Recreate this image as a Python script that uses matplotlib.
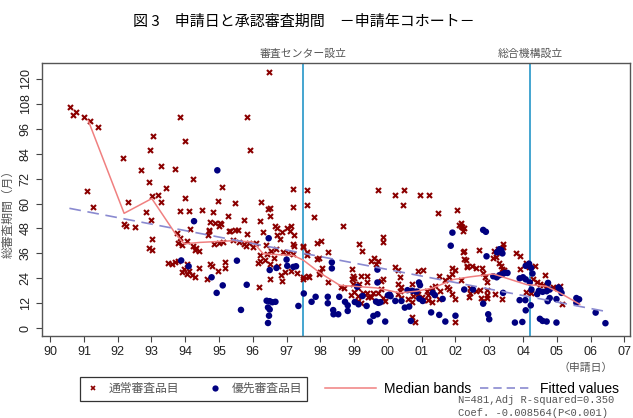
import numpy as np
import matplotlib
matplotlib.use("Agg")
import matplotlib.pyplot as plt
from matplotlib.lines import Line2D

plt.rcParams['font.family'] = ['Liberation Sans', 'Noto Sans CJK JP', 'DejaVu Sans']

# 通常審査品目 (application year 19xx, review months)
normal_year = [
    90.59, 90.69, 90.78, 91.01, 91.18, 91.41, 91.10, 91.28, 92.17, 92.30,
    92.20, 92.24, 92.51, 92.70, 92.95, 93.05, 92.94, 93.01, 93.20, 93.28,
    93.28, 93.43, 92.84, 93.00, 93.01, 92.94, 93.01, 93.83, 94.00, 93.69,
    94.24, 94.00, 93.83, 94.10, 94.51, 93.76, 93.85, 93.80, 93.90, 94.05,
    94.14, 93.50, 93.60, 93.70, 93.78, 93.90, 93.95, 94.05, 94.12, 94.20,
    94.28, 94.05, 94.24, 94.33, 94.42, 94.28, 94.40, 94.64, 94.72, 94.80,
    94.70, 94.68, 94.97, 95.09, 95.03, 94.99, 94.85, 95.00, 95.12, 94.98,
    95.17, 95.17, 95.26, 95.30, 95.46, 95.46, 95.74, 95.84, 95.82, 95.91,
    95.80, 95.90, 96.00, 96.49, 96.24, 96.22, 96.30, 96.51, 96.46, 96.51,
    96.20, 96.22, 96.35, 96.42, 96.55, 96.62, 96.66, 96.73, 96.80, 97.00,
    97.13, 97.20, 97.20, 97.23, 97.18, 97.22, 97.20, 97.12, 96.83, 96.50,
    96.17, 97.49, 97.59, 97.61, 97.82, 97.65, 97.49, 97.90, 97.90, 97.60,
    94.73, 94.88, 95.05, 95.33, 95.55, 94.71, 96.73, 96.85, 97.10, 95.40,
    95.60, 95.75, 96.10, 96.40, 96.70, 96.90, 97.05, 96.15, 96.50, 96.75,
    96.95, 97.30, 96.85, 94.83,
    97.48, 97.48, 97.64, 97.60, 98.68, 98.01, 98.22, 97.95, 98.05, 98.00,
    97.95, 98.22, 99.72, 100.22, 100.48, 100.46, 100.95, 101.21, 101.48, 102.05,
    102.10, 102.17, 102.22, 99.86, 99.86, 99.15, 99.22, 99.60, 99.70,
    98.93, 98.98, 99.00, 99.20, 98.93, 98.98, 99.15, 99.37, 99.37, 99.25,
    99.37, 99.40, 99.50, 99.55, 99.84, 99.80, 99.50, 99.65, 100.30, 100.35,
    100.70, 100.75, 100.82, 100.90, 100.60, 100.70, 100.70, 100.80, 100.90, 101.05,
    101.15, 101.20, 101.30, 101.40, 101.50, 101.55, 101.70, 101.80, 101.90, 101.90,
    102.00, 101.80, 101.90, 102.00, 102.00, 102.15, 102.25, 102.30, 102.35, 101.75,
    101.50, 101.20, 101.30, 100.20, 100.30, 99.80, 99.70, 99.85, 99.90, 98.60,
    98.70, 98.90, 99.00, 99.10, 99.10, 99.20, 99.10, 100.35, 100.40, 100.30,
    100.40, 101.00, 101.05,
    102.23, 102.25, 102.35, 102.48, 102.60, 102.70, 102.80, 102.83, 102.88, 102.92,
    102.93, 102.93, 102.93, 102.43, 102.74, 103.17, 103.39, 103.30, 103.35, 103.38,
    103.44, 103.10, 103.20, 103.41, 103.41, 103.15, 103.22, 103.79, 103.90, 103.90,
    104.10, 104.18, 104.35, 104.65, 104.30, 104.40, 104.50, 104.60, 104.72, 104.90,
    105.00, 105.10, 105.16, 104.10, 104.25, 102.16, 102.20, 102.26, 102.43, 102.62,
    102.75, 102.83, 102.40, 103.26,
]
normal_month = [
    106.7, 102.4, 104.3, 101.7, 99.6, 97.0, 65.8, 58.5, 82.1, 60.9,
    50.0, 49.2, 48.8, 76.0, 85.6, 92.3, 70.3, 63.7, 64.2, 77.9,
    60.6, 67.3, 55.8, 52.3, 42.9, 38.6, 37.8, 101.5, 89.9, 76.6,
    71.9, 62.9, 56.6, 56.4, 56.7, 46.0, 43.5, 41.0, 40.0, 42.0,
    47.7, 31.5, 31.0, 32.0, 32.5, 27.0, 28.5, 26.0, 27.5, 25.5,
    24.8, 31.0, 39.5, 38.5, 37.2, 37.8, 29.2, 23.8, 31.0, 30.0,
    47.0, 45.0, 61.2, 68.0, 50.5, 49.0, 40.5, 41.0, 41.5, 27.4,
    32.0, 29.0, 54.2, 46.8, 47.1, 60.5, 52.1, 45.2, 101.5, 86.0,
    39.5, 41.0, 39.0, 123.3, 60.6, 51.4, 46.5, 58.0, 57.5, 53.9,
    32.5, 35.0, 33.0, 35.5, 37.0, 34.0, 49.2, 45.0, 43.0, 48.0,
    49.4, 58.5, 67.0, 45.0, 40.6, 39.8, 35.5, 27.5, 25.8, 23.5,
    19.9, 39.0, 66.7, 59.1, 53.6, 24.4, 23.7, 41.0, 33.2, 35.0,
    51.0, 50.5, 50.0, 47.0, 47.3, 47.3, 48.0, 46.5, 47.0, 42.5,
    41.5, 40.5, 41.0, 40.0, 38.0, 36.5, 36.0, 31.5, 31.0, 30.0,
    27.0, 26.5, 22.5, 55.8,
    39.5, 24.5, 25.3, 36.5, 49.4, 41.9, 36.7, 33.6, 29.0, 27.0,
    26.0, 22.3, 66.4, 64.1, 66.4, 59.4, 64.1, 64.1, 55.6, 56.7,
    49.5, 49.0, 47.0, 44.1, 41.3, 40.5, 37.1, 33.6, 32.3,
    28.5, 25.0, 24.0, 25.0, 23.5, 21.5, 21.5, 25.0, 22.0, 17.0,
    17.0, 15.0, 15.0, 17.0, 23.5, 22.5, 32.5, 31.0, 21.5, 24.5,
    21.5, 15.5, 18.0, 16.5, 14.0, 12.5, 5.5, 3.0, 27.5, 27.8,
    18.0, 16.0, 19.5, 20.5, 25.0, 18.0, 23.0, 24.5, 26.0, 29.0,
    28.0, 19.0, 16.5, 14.0, 3.2, 23.0, 37.0, 33.0, 30.0, 20.0,
    14.0, 13.5, 12.5, 29.5, 28.0, 19.0, 17.0, 14.5, 13.0, 20.0,
    19.5, 16.0, 17.5, 15.5, 13.0, 12.0, 19.5, 18.0, 20.0, 16.5,
    14.5, 15.0, 13.5,
    36.6, 33.3, 29.5, 29.8, 29.0, 37.4, 29.0, 26.5, 24.5, 22.0,
    18.6, 16.2, 14.4, 16.7, 18.6, 16.3, 13.9, 31.5, 30.0, 28.5,
    28.0, 34.0, 34.5, 40.6, 39.3, 37.0, 36.8, 36.2, 34.6, 28.5,
    31.5, 29.5, 30.0, 25.6, 23.5, 22.0, 21.5, 21.0, 20.5, 20.0,
    19.5, 20.5, 11.8, 17.5, 17.0, 50.6, 48.9, 48.1, 19.5, 18.0,
    14.5, 13.0, 15.0, 38.1,
]

# 優先審査品目
priority_year = [
    94.95, 94.26, 93.88, 94.10, 94.78, 94.93, 95.11, 95.53, 95.82, 95.65,
    96.47, 96.41, 96.50, 96.58, 96.67, 96.45, 96.50, 96.48, 96.45, 96.50,
    96.70, 97.00, 97.02, 97.20, 97.28, 97.35, 97.51, 97.74, 97.86, 98.22,
    98.22, 98.34, 98.34, 98.38, 98.39, 98.53, 98.56, 98.73, 98.81, 98.81,
    99.02, 99.13, 99.09, 99.25, 99.37, 99.47, 99.57, 99.69, 99.65, 99.72,
    99.78, 99.69, 99.69, 99.92, 100.00, 100.05, 100.08, 100.22, 100.40, 100.50,
    100.63, 100.68, 100.58, 100.72, 100.85, 100.92, 100.95, 100.93, 101.03, 101.28,
    101.52, 101.33, 101.39, 101.62, 101.70, 101.86, 101.91, 102.00, 102.26, 102.82,
    102.90, 102.52, 102.82, 102.97, 103.00, 102.92, 103.12, 103.22, 103.30, 103.39,
    103.23, 103.30, 103.36, 103.39, 103.41, 103.46, 103.54, 103.76, 103.98, 103.90,
    104.07, 104.08, 104.23, 103.90, 104.00, 104.08, 104.08, 104.18, 104.24, 104.28,
    104.20, 104.25, 104.42, 104.50, 104.58, 104.70, 104.99, 104.47, 104.58, 104.70,
    104.79, 104.73, 104.79, 104.74, 104.99, 105.05, 105.10, 105.14, 105.58, 105.66,
    105.58, 106.15, 106.44,
]
priority_month = [
    76.0, 51.5, 32.6, 29.8, 24.5, 17.0, 20.6, 32.5, 20.9, 8.8,
    43.3, 13.2, 13.0, 12.5, 12.7, 10.0, 9.0, 6.0, 2.5, 28.0,
    29.0, 33.0, 30.0, 29.5, 29.8, 10.7, 16.7, 12.7, 15.1, 15.1,
    12.0, 31.7, 28.8, 8.7, 6.7, 6.7, 15.1, 12.7, 11.0, 8.3,
    12.6, 11.5, 19.9, 15.5, 10.7, 3.2, 5.9, 6.7, 12.8, 12.2,
    12.5, 28.2, 22.0, 3.2, 15.8, 16.2, 15.4, 13.1, 13.1, 9.9,
    10.4, 3.5, 18.3, 18.0, 17.6, 22.0, 20.7, 14.2, 13.1, 7.6,
    6.4, 17.0, 15.9, 14.1, 3.2, 39.7, 46.0, 6.0, 18.6, 47.3,
    46.4, 18.6, 11.8, 6.7, 4.3, 34.6, 25.0, 24.5, 25.5, 26.0,
    36.5, 38.0, 37.5, 36.0, 17.0, 26.6, 26.6, 2.7, 3.0, 13.5,
    13.5, 8.6, 11.0, 24.0, 24.5, 23.5, 30.0, 31.0, 29.0, 26.3,
    22.0, 18.6, 16.4, 4.5, 3.5, 3.2, 2.7, 18.0, 17.5, 17.8,
    18.6, 13.0, 14.5, 21.8, 14.0, 19.6, 18.5, 17.0, 14.5, 13.9,
    12.2, 7.5, 2.4,
]

# median bands and fitted values
median_year = [91.13, 92.19, 93.01, 93.70, 93.97, 94.44, 95.42, 96.0, 96.31, 97.2,
               97.5, 97.99, 98.58, 98.97, 99.66, 100.35, 100.85, 101.34, 101.93, 102.43,
               103.12, 104.1, 104.69, 105.09, 105.68]
median_month = [99.9, 55.3, 62.4, 45.7, 40.6, 41.3, 42.1, 41.5, 35.8, 35.0,
                32.7, 26.6, 20.6, 20.2, 19.4, 17.0, 17.8, 19.4, 23.4, 24.7,
                26.1, 21.0, 20.2, 17.0, 11.5]
fit_year = [90.57, 106.47]
fit_month = [57.7, 8.0]

events = [97.5, 104.22]
event_labels = ['審査センター設立', '総合機構設立']
year_ticks = list(range(90, 108))
year_labels = ['%02d' % (y % 100) for y in year_ticks]
month_ticks = list(range(0, 121, 12))

red = '#8b0000'
navy = '#000080'
gray = '#555555'

fig = plt.figure(figsize=(6.33, 4.18), dpi=100)
ax = fig.add_axes([0.0664, 0.196, 0.929, 0.653])

ax.scatter(normal_year, normal_month, marker='x', s=13, linewidths=1.5, color=red, zorder=3)
ax.scatter(priority_year, priority_month, marker='o', s=22, color=navy, edgecolors='none', zorder=3)
ax.plot(median_year, median_month, color='#f08080', lw=1.1, zorder=4)
ax.plot(fit_year, fit_month, color='#8a8ad0', lw=1.2, dashes=(7, 4), zorder=4)

for x, lab in zip(events, event_labels):
    ax.axvline(x, color='#2596c8', lw=1.2, zorder=2)
    ax.text(x, 1.015, lab, transform=ax.get_xaxis_transform(), ha='center', va='bottom',
            fontsize=7.8, color=gray, family=['Noto Sans CJK JP'])

ax.set_xlim(89.76, 107.17)
ax.set_ylim(-3.8, 127.6)
ax.set_xticks(year_ticks)
ax.set_xticklabels(year_labels)
ax.set_yticks(month_ticks)
ax.set_yticklabels([str(m) for m in month_ticks], rotation=90, va='center')
ax.tick_params(axis='both', length=4, width=0.8, color='#444444', labelsize=9, labelcolor='#222222')
for sp in ax.spines.values():
    sp.set_color('#555555')
    sp.set_linewidth(1)

fig.text(0.48, 0.947, '図 3　申請日と承認審査期間　－申請年コホート－', ha='center', va='center',
         fontsize=10.8, family=['Noto Sans CJK JP'])
fig.text(0.013, 0.495, '総審査期間（月）', rotation=90, ha='center', va='center',
         fontsize=8.5, color=gray, family=['Noto Sans CJK JP'])
fig.text(0.925, 0.12, '（申請日）', ha='center', va='center', fontsize=7.8, color=gray,
         family=['Noto Sans CJK JP'])

h1 = [Line2D([], [], marker='x', ls='none', color=red, markersize=3.5, mew=1.2),
      Line2D([], [], marker='o', ls='none', color=navy, markersize=4.5, mec='none')]
leg1 = fig.legend(h1, ['通常審査品目', '優先審査品目'], ncol=2, loc='center',
                  bbox_to_anchor=(0.306, 0.07), frameon=True, fancybox=False,
                  edgecolor='#333333', framealpha=1, prop={'family': 'Noto Sans CJK JP', 'size': 8.5},
                  handlelength=1.2, handletextpad=0.8, columnspacing=2.4, borderpad=0.45)
leg1.get_frame().set_linewidth(0.9)
for t in leg1.get_texts():
    t.set_color(gray)

h2 = [Line2D([], [], color='#f08080', lw=1.1),
      Line2D([], [], color='#8a8ad0', lw=1.2, dashes=(5, 3))]
leg2 = fig.legend(h2, ['Median bands', 'Fitted values'], ncol=2, loc='center',
                  bbox_to_anchor=(0.745, 0.07), frameon=False,
                  prop={'family': 'Liberation Sans', 'size': 10},
                  handlelength=3.7, handletextpad=0.6, columnspacing=0.6)

fig.text(0.723, 0.042, 'N=481,Adj R-squared=0.350', fontsize=7.6, color=gray,
         family='Liberation Mono', va='center')
fig.text(0.723, 0.013, 'Coef. -0.008564(P<0.001)', fontsize=7.6, color=gray,
         family='Liberation Mono', va='center')

fig.savefig('out.png', dpi=100)
